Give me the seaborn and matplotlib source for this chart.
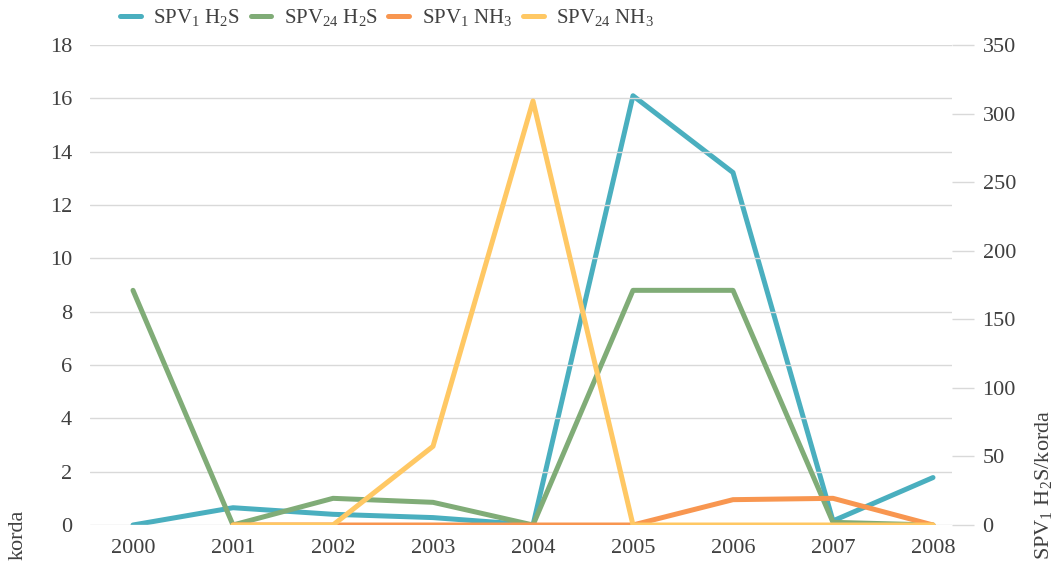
import numpy as np
import pandas as pd
import seaborn as sns
import matplotlib.pyplot as plt

years = [2000, 2001, 2002, 2003, 2004, 2005, 2006, 2007, 2008]

# SPV1 H2S is read against the right axis (0-350)
spv1_h2s = [0, 12.6, 7.8, 5.4, 0, 313, 257, 3, 34.6]
# the rest against the left axis "korda"
spv24_h2s = [8.8, 0, 1.0, 0.85, 0, 8.8, 8.8, 0.1, 0]
spv1_nh3 = [np.nan, 0, 0, 0, 0, 0, 0.95, 1.0, 0]
spv24_nh3 = [np.nan, 0, 0, 2.95, 15.9, 0, 0, 0, 0]

labels = [r'SPV$\mathregular{_1}$ H$\mathregular{_2}$S',
          r'SPV$\mathregular{_{24}}$ H$\mathregular{_2}$S',
          r'SPV$\mathregular{_1}$ NH$\mathregular{_3}$',
          r'SPV$\mathregular{_{24}}$ NH$\mathregular{_3}$']
colors = ['#4aafbf', '#80ac77', '#f89650', '#ffc864']

sns.set_style('white')
plt.rcParams['font.family'] = ['Liberation Serif', 'DejaVu Serif']
plt.rcParams['mathtext.fontset'] = 'custom'
plt.rcParams['mathtext.rm'] = 'Liberation Serif'
txt = '#404040'
grid = '#d9d9d9'

df = pd.DataFrame({'year': years, 'a': spv1_h2s, 'b': spv24_h2s, 'c': spv1_nh3, 'd': spv24_nh3})

fig = plt.figure(figsize=(10.62, 5.68), dpi=100)
ax = fig.add_axes([90 / 1062, 1 - 525 / 568, 862 / 1062, 480 / 568])
ax2 = ax.twinx()
ax2.set_zorder(ax.get_zorder() - 1)
ax.patch.set_visible(False)

sns.lineplot(data=df, x='year', y='a', ax=ax2, color=colors[0], lw=3.6, label=labels[0], legend=False)
for col, c, lab in zip(['b', 'c', 'd'], colors[1:], labels[1:]):
    sns.lineplot(data=df, x='year', y=col, ax=ax, color=c, lw=3.6, label=lab, legend=False)

ax.set_xlim(2000 - 0.43, 2008 + 0.19)
ax.set_ylim(0, 18)
ax2.set_ylim(0, 350)
ax.set_yticks(range(0, 19, 2))
ax2.set_yticks(range(0, 351, 50))
ax.set_xticks(years)
ax.set_xticklabels([str(y) for y in years])

ax.grid(axis='y', color=grid, lw=1)
ax.grid(axis='x', visible=False)
ax2.grid(False)
for a in (ax, ax2):
    for s in a.spines.values():
        s.set_visible(False)
    a.set_xlabel('')
    a.set_ylabel('')

ax.tick_params(axis='y', length=0, pad=13, labelsize=16, labelcolor=txt)
ax.tick_params(axis='x', length=0, pad=10, labelsize=16, labelcolor=txt)
ax2.tick_params(axis='y', length=16, width=1, color=grid, pad=6, labelsize=16, labelcolor=txt)

fig.text(18 / 1062, 8 / 568, 'korda', rotation=90, ha='center', va='bottom', fontsize=16, color=txt)
fig.text(1043 / 1062, 8 / 568, r'SPV$\mathregular{_1}$ H$\mathregular{_2}$S/korda', rotation=90,
         ha='center', va='bottom', fontsize=16, color=txt)

h1, l1 = ax2.get_legend_handles_labels()
h2, l2 = ax.get_legend_handles_labels()
leg = fig.legend(h1 + h2, l1 + l2, loc='center', bbox_to_anchor=(387 / 1062, 1 - 18 / 568), ncol=4,
                 frameon=False, fontsize=15, handlelength=1.0, handletextpad=0.6, columnspacing=0.5)
for t in leg.get_texts():
    t.set_color(txt)

fig.savefig('out.png', dpi=100)
